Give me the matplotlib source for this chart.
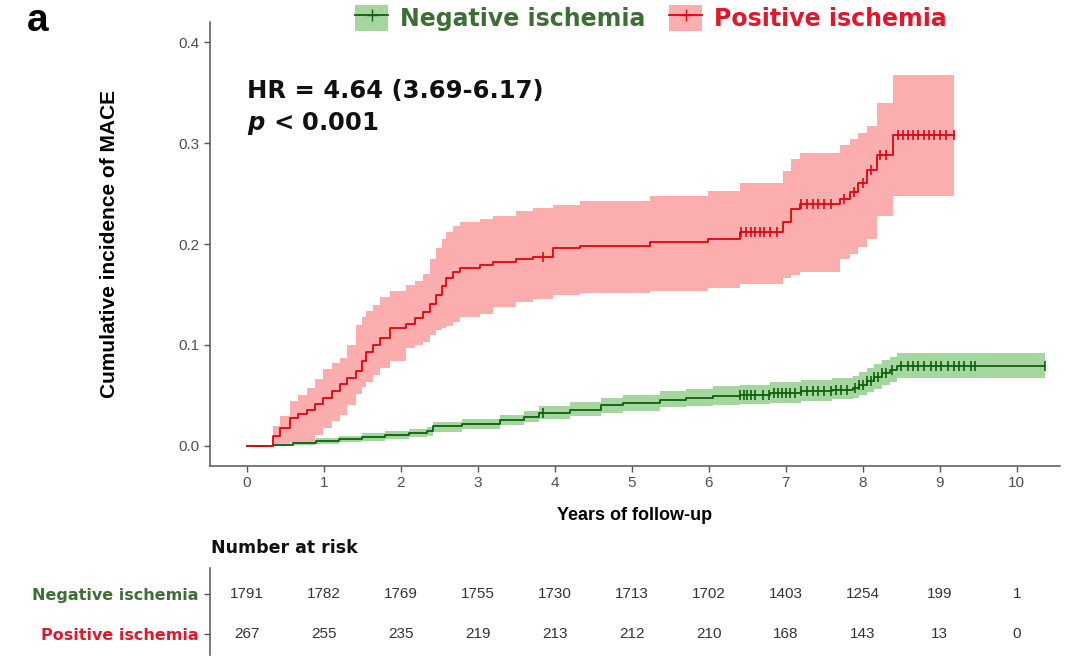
import numpy as np
import matplotlib
matplotlib.use("Agg")
import matplotlib.pyplot as plt
from matplotlib.patches import Patch
from matplotlib.lines import Line2D

plt.rcParams['font.family'] = ['Liberation Sans', 'DejaVu Sans']

# --- data -----------------------------------------------------------------
# positive ischemia (red) step curve + 95% CI
pos_t = [0, 0.34, 0.43, 0.56, 0.67, 0.78, 0.88, 0.99, 1.10, 1.21, 1.30, 1.42, 1.50,
         1.55, 1.64, 1.73, 1.86, 2.07, 2.18, 2.29, 2.38, 2.46, 2.53, 2.59, 2.68, 2.77,
         3.03, 3.20, 3.50, 3.72, 3.98, 4.32, 5.23, 5.99, 6.40, 6.96, 7.07, 7.18, 7.70,
         7.83, 7.94, 8.05, 8.18, 8.39, 9.18]
pos_v = [0, 0.010, 0.018, 0.028, 0.032, 0.036, 0.041, 0.047, 0.054, 0.061, 0.067, 0.074, 0.084,
         0.093, 0.100, 0.107, 0.117, 0.121, 0.127, 0.133, 0.141, 0.149, 0.158, 0.166, 0.172, 0.176,
         0.179, 0.182, 0.185, 0.187, 0.196, 0.198, 0.202, 0.205, 0.212, 0.222, 0.235, 0.240, 0.245,
         0.252, 0.260, 0.273, 0.288, 0.308, 0.308]
pos_hi = [0, 0.020, 0.030, 0.044, 0.050, 0.057, 0.066, 0.076, 0.082, 0.087, 0.100, 0.120, 0.128,
          0.134, 0.140, 0.147, 0.153, 0.159, 0.163, 0.170, 0.185, 0.196, 0.205, 0.212, 0.218, 0.222,
          0.225, 0.228, 0.233, 0.236, 0.239, 0.243, 0.248, 0.253, 0.260, 0.272, 0.284, 0.290, 0.298,
          0.304, 0.310, 0.317, 0.340, 0.367, 0.367]
pos_lo = [0, 0.001, 0.002, 0.003, 0.004, 0.005, 0.011, 0.018, 0.025, 0.031, 0.040, 0.051, 0.058,
          0.063, 0.070, 0.077, 0.084, 0.097, 0.100, 0.103, 0.110, 0.115, 0.117, 0.119, 0.123, 0.128,
          0.131, 0.138, 0.143, 0.146, 0.149, 0.151, 0.153, 0.156, 0.160, 0.166, 0.169, 0.172, 0.185,
          0.190, 0.197, 0.205, 0.228, 0.248, 0.248]
pos_cens = [3.85, 6.42, 6.48, 6.55, 6.60, 6.66, 6.72, 6.80, 6.88, 7.20, 7.28, 7.35, 7.42, 7.50,
            7.58, 7.75, 7.88, 8.00, 8.10, 8.22, 8.30, 8.45, 8.52, 8.58, 8.65, 8.72, 8.80, 8.86,
            8.93, 9.00, 9.08, 9.18]

# negative ischemia (green)
neg_t = [0, 0.34, 0.6, 0.9, 1.2, 1.5, 1.8, 2.1, 2.34, 2.42, 2.8, 3.29, 3.6, 3.8, 4.2, 4.6,
         4.88, 5.36, 5.7, 6.05, 6.4, 6.8, 7.2, 7.6, 7.87, 7.95, 8.05, 8.15, 8.25, 8.35, 8.44, 10.36]
neg_v = [0, 0.001, 0.003, 0.005, 0.007, 0.009, 0.011, 0.013, 0.0145, 0.0195, 0.022, 0.026, 0.029,
         0.033, 0.036, 0.040, 0.0425, 0.0457, 0.047, 0.049, 0.050, 0.052, 0.054, 0.055, 0.057,
         0.060, 0.064, 0.068, 0.072, 0.075, 0.079, 0.079]
neg_hi = [0, 0.002, 0.005, 0.008, 0.010, 0.013, 0.015, 0.017, 0.019, 0.024, 0.027, 0.031, 0.035,
          0.039, 0.043, 0.047, 0.050, 0.054, 0.056, 0.059, 0.060, 0.063, 0.065, 0.067, 0.069,
          0.073, 0.077, 0.081, 0.085, 0.088, 0.092, 0.092]
neg_lo = [0, 0, 0.001, 0.002, 0.004, 0.005, 0.007, 0.009, 0.010, 0.014, 0.017, 0.021, 0.024,
          0.027, 0.030, 0.033, 0.035, 0.038, 0.039, 0.040, 0.041, 0.042, 0.044, 0.046, 0.047,
          0.050, 0.053, 0.056, 0.060, 0.063, 0.067, 0.067]
neg_cens = [3.85, 6.40, 6.45, 6.50, 6.55, 6.60, 6.70, 6.78, 6.85, 6.90, 6.95, 7.00, 7.05, 7.12,
            7.20, 7.28, 7.35, 7.42, 7.50, 7.58, 7.65, 7.72, 7.80, 7.90, 7.95, 8.00, 8.05, 8.10,
            8.15, 8.20, 8.25, 8.30, 8.38, 8.50, 8.58, 8.65, 8.72, 8.80, 8.88, 8.95, 9.02, 9.10,
            9.18, 9.25, 9.32, 9.40, 9.45, 10.36]

risk_years = [0, 1, 2, 3, 4, 5, 6, 7, 8, 9, 10]
neg_risk = [1791, 1782, 1769, 1755, 1730, 1713, 1702, 1403, 1254, 199, 1]
pos_risk = [267, 255, 235, 219, 213, 212, 210, 168, 143, 13, 0]

groups = ["Negative ischemia", "Positive ischemia"]

NEG_LINE, NEG_FILL, NEG_TXT = "#0d600d", "#a6d6a0", "#3e6e35"
POS_LINE, POS_FILL, POS_TXT = "#e8000b", "#fcaeae", "#e3172b"
WIDE = ['DejaVu Sans']
GREY = "#4d4d4d"


def step_at(t, v, x):
    # value of a post-step curve at time x
    idx = np.searchsorted(t, x, side='right') - 1
    return np.asarray(v)[idx]


fig = plt.figure(figsize=(10.71, 6.57), dpi=100)
ax = fig.add_axes([0.196, 0.2907, 0.7937, 0.6758])

for t, v, lo, hi, cens, lc, fc in [
        (neg_t, neg_v, neg_lo, neg_hi, neg_cens, NEG_LINE, NEG_FILL),
        (pos_t, pos_v, pos_lo, pos_hi, pos_cens, POS_LINE, POS_FILL)]:
    ax.fill_between(t, lo, hi, step='post', color=fc, lw=0)
    ax.step(t, v, where='post', color=lc, lw=1.3)
    ax.plot(cens, step_at(t, v, cens), ls='none', marker='|', ms=7, mew=1.2, color=lc)

ax.set_xlim(-0.48, 10.56)
ax.set_ylim(-0.02, 0.42)
ax.set_xticks(range(0, 11))
ax.set_yticks([0.0, 0.1, 0.2, 0.3, 0.4])
ax.set_yticklabels(["0.0", "0.1", "0.2", "0.3", "0.4"])
for s in ['top', 'right']:
    ax.spines[s].set_visible(False)
for s in ['left', 'bottom']:
    ax.spines[s].set_color("#555555")
    ax.spines[s].set_linewidth(1.1)
ax.tick_params(colors="#555555", labelcolor=GREY, labelsize=11, length=4, width=1)
ax.set_xlabel("Years of follow-up", fontweight='bold', fontsize=13, labelpad=12)
ax.set_ylabel("Cumulative incidence of MACE", fontweight='bold', fontsize=15, labelpad=43)

ax.text(0.0, 0.352, "HR = 4.64 (3.69-6.17)", fontsize=17.5, fontweight='bold',
        family=WIDE, color="#111111", va='center')
ax.text(0.0, 0.319, r"$\boldsymbol{p}$ < 0.001", fontsize=17.5, fontweight='bold',
        family=WIDE, color="#111111", va='center')

# legend
handles = [(Patch(facecolor=NEG_FILL, edgecolor='none'),
            Line2D([], [], color=NEG_LINE, marker='+', ms=9, lw=1.3)),
           (Patch(facecolor=POS_FILL, edgecolor='none'),
            Line2D([], [], color=POS_LINE, marker='+', ms=9, lw=1.3))]
leg = fig.legend(handles, groups, loc='center', bbox_to_anchor=(0.608, 0.973), ncol=2,
                 frameon=False, handlelength=1.4, handleheight=1.3, handletextpad=0.5,
                 columnspacing=1.0,
                 prop={'family': WIDE, 'weight': 'bold', 'size': 17})
for txt, c in zip(leg.get_texts(), [NEG_TXT, POS_TXT]):
    txt.set_color(c)

fig.text(0.025, 0.968, "a", fontsize=28, fontweight='bold', va='center', ha='left')

# risk table
tab = fig.add_axes([0.196, 0.003, 0.7937, 0.1324])
tab.set_xlim(-0.48, 10.56)
tab.set_ylim(-0.525, 1.65)
for x, n in zip(risk_years, neg_risk):
    tab.text(x, 1, str(n), ha='center', va='center', fontsize=11, color="#333333")
for x, n in zip(risk_years, pos_risk):
    tab.text(x, 0, str(n), ha='center', va='center', fontsize=11, color="#333333")
tab.tick_params(axis='y', color="#555555", length=4, width=1, pad=4)
tab.set_yticks([1, 0])
tab.set_yticklabels(groups, family=WIDE, fontweight='bold', fontsize=11.5)
for lbl, c in zip(tab.get_yticklabels(), [NEG_TXT, POS_TXT]):
    lbl.set_color(c)
tab.set_xticks([])
for s in ['top', 'right', 'bottom']:
    tab.spines[s].set_visible(False)
tab.spines['left'].set_color("#555555")
tab.spines['left'].set_linewidth(1.1)
tab.patch.set_alpha(0)

fig.text(0.197, 0.166, "Number at risk", fontsize=12.5, fontweight='bold',
         family=WIDE, va='center', ha='left', color="#111111")

fig.savefig("out.png", dpi=100)
